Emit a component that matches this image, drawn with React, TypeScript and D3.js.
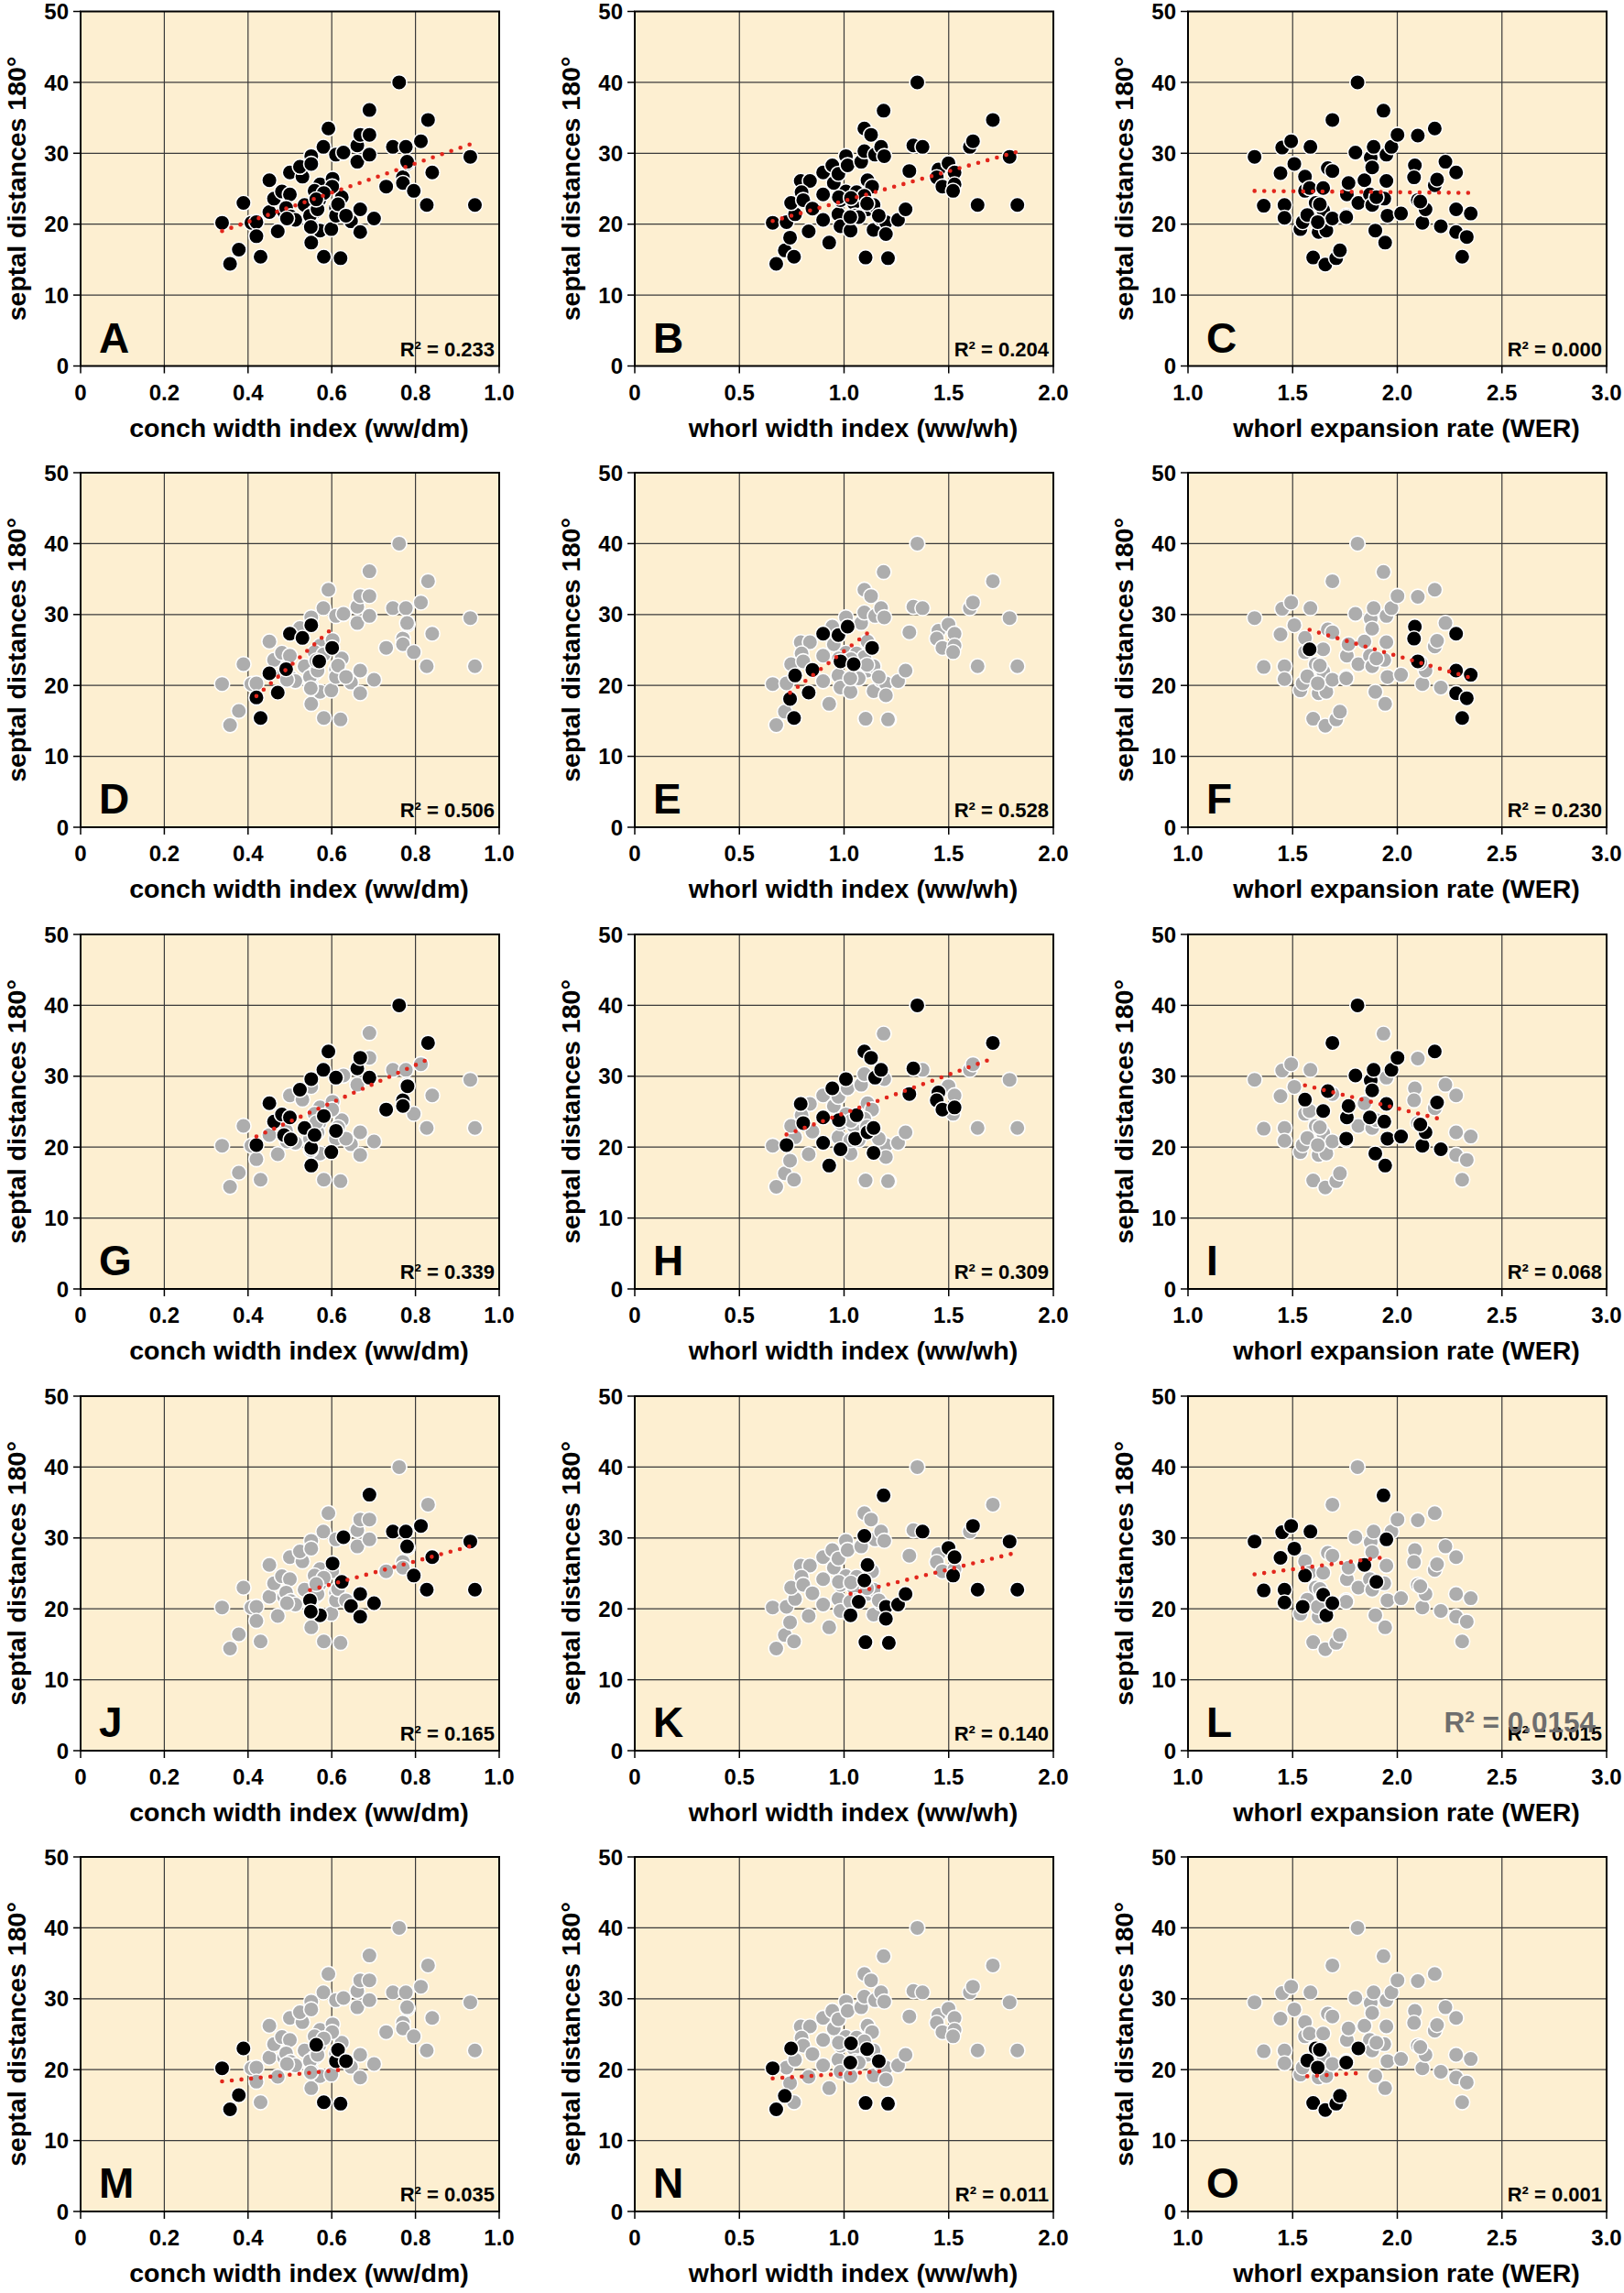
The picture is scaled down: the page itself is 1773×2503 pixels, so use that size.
import React from 'react';
import * as d3 from 'd3';

// [x, septal distance, subgroup] ; subgroup 1..4 = highlighted in row 2..5, 0 = never highlighted
type Pt = [number, number, number];

const conchWidthIndex: Pt[] = [
  [0.338, 20.2, 4], [0.357, 14.4, 4], [0.378, 16.4, 4], [0.389, 23.0, 4], [0.408, 20.2, 0],
  [0.420, 20.3, 2], [0.420, 18.3, 1], [0.430, 15.4, 1], [0.451, 26.2, 2], [0.451, 21.7, 1],
  [0.462, 23.6, 2], [0.471, 19.0, 1], [0.481, 24.6, 2], [0.486, 21.7, 2], [0.500, 24.2, 2],
  [0.491, 22.3, 1], [0.500, 27.3, 1], [0.502, 21.1, 2], [0.513, 20.6, 0], [0.530, 26.7, 1],
  [0.524, 28.1, 2], [0.535, 22.7, 2], [0.551, 29.6, 2], [0.551, 28.5, 1], [0.551, 19.9, 2],
  [0.551, 17.4, 2], [0.559, 21.7, 2], [0.572, 25.6, 0], [0.570, 23.4, 1], [0.559, 24.7, 0],
  [0.572, 19.1, 3], [0.580, 30.9, 2], [0.592, 33.5, 2], [0.581, 15.4, 4], [0.599, 19.3, 2],
  [0.602, 26.4, 3], [0.610, 29.8, 2], [0.610, 22.3, 2], [0.610, 21.2, 4], [0.624, 23.8, 3],
  [0.628, 30.1, 3], [0.621, 15.2, 4], [0.646, 20.4, 3], [0.661, 31.1, 2], [0.661, 28.8, 0],
  [0.668, 32.6, 2], [0.668, 22.1, 3], [0.668, 18.9, 3], [0.690, 36.1, 3], [0.690, 32.6, 0],
  [0.690, 29.8, 2], [0.701, 20.8, 3], [0.730, 25.3, 2], [0.746, 30.9, 3], [0.761, 40.0, 2],
  [0.770, 26.6, 2], [0.770, 25.8, 2], [0.777, 30.9, 3], [0.781, 28.6, 2], [0.796, 24.7, 3],
  [0.813, 31.7, 3], [0.827, 22.7, 3], [0.830, 34.7, 2], [0.840, 27.3, 3], [0.931, 29.5, 3],
  [0.942, 22.7, 3], [0.548, 21.2, 3], [0.493, 20.8, 0], [0.566, 22.1, 0], [0.601, 25.3, 1],
  [0.581, 24.4, 2], [0.780, 28.8, 3], [0.550, 19.6, 3], [0.563, 23.5, 4], [0.615, 22.8, 4],
  [0.634, 21.2, 4],
];

const whorlWidthIndex: Pt[] = [
  [0.659, 20.2, 4], [0.676, 14.4, 4], [0.717, 16.3, 4], [0.742, 18.1, 1], [0.725, 20.3, 2],
  [0.761, 15.4, 1], [0.766, 21.4, 1], [0.747, 23.0, 4], [0.793, 26.1, 2], [0.837, 26.1, 0],
  [0.797, 24.5, 0], [0.805, 23.4, 2], [0.831, 19.0, 1], [0.849, 22.2, 1], [0.900, 20.6, 2],
  [0.900, 27.3, 1], [0.900, 24.2, 2], [0.929, 17.4, 2], [0.944, 28.3, 2], [0.951, 25.8, 0],
  [0.973, 27.1, 1], [0.973, 21.4, 0], [0.983, 23.4, 1], [0.983, 19.7, 2], [1.009, 29.6, 2],
  [1.017, 28.3, 1], [1.009, 24.6, 0], [1.031, 19.1, 3], [1.046, 23.0, 1], [1.053, 21.2, 2],
  [1.082, 28.8, 0], [1.097, 30.3, 3], [1.097, 33.5, 2], [1.102, 15.3, 3], [1.112, 26.2, 3],
  [1.112, 22.1, 2], [1.129, 32.6, 2], [1.134, 25.3, 1], [1.141, 22.7, 2], [1.141, 19.2, 2],
  [1.148, 29.8, 2], [1.177, 30.9, 2], [1.189, 36.0, 3], [1.192, 29.6, 0], [1.175, 20.8, 0],
  [1.200, 20.3, 3], [1.200, 18.6, 3], [1.214, 15.2, 3], [1.258, 20.6, 3], [1.294, 22.1, 3],
  [1.312, 27.5, 2], [1.331, 31.1, 2], [1.350, 40.0, 2], [1.375, 30.9, 3], [1.451, 27.7, 2],
  [1.443, 26.6, 2], [1.470, 25.3, 2], [1.499, 28.6, 3], [1.528, 27.3, 3], [1.528, 25.6, 2],
  [1.521, 24.7, 3], [1.601, 30.9, 0], [1.616, 31.7, 3], [1.638, 22.7, 3], [1.711, 34.7, 2],
  [1.791, 29.5, 3], [1.828, 22.7, 3], [0.975, 23.8, 2], [1.060, 24.5, 2], [1.097, 24.0, 3],
  [1.070, 21.0, 3], [1.033, 23.7, 4], [1.030, 21.0, 4], [1.110, 22.9, 4], [1.166, 21.2, 4],
  [1.103, 15.3, 4], [1.210, 15.2, 4],
];

const whorlExpansionRate: Pt[] = [
  [1.318, 29.5, 3], [1.362, 22.6, 3], [1.442, 27.2, 3], [1.450, 30.8, 3], [1.461, 22.7, 3],
  [1.461, 20.9, 3], [1.493, 31.7, 3], [1.508, 28.5, 3], [1.537, 19.3, 0], [1.548, 20.3, 3],
  [1.559, 26.7, 2], [1.559, 24.7, 3], [1.581, 25.1, 1], [1.585, 30.9, 3], [1.598, 15.3, 4],
  [1.610, 23.0, 4], [1.624, 18.9, 0], [1.646, 25.1, 2], [1.646, 22.0, 3], [1.656, 14.3, 4],
  [1.661, 19.1, 3], [1.668, 27.9, 2], [1.690, 27.5, 0], [1.690, 20.8, 3], [1.708, 15.2, 4],
  [1.726, 16.3, 4], [1.690, 34.7, 2], [1.756, 21.2, 2], [1.759, 24.2, 2], [1.767, 25.8, 2],
  [1.800, 30.1, 2], [1.810, 40.0, 2], [1.814, 23.0, 4], [1.843, 26.2, 3], [1.873, 29.4, 2],
  [1.880, 28.0, 2], [1.869, 24.2, 2], [1.880, 22.7, 0], [1.887, 30.9, 2], [1.895, 19.1, 2],
  [1.934, 36.0, 3], [1.938, 23.6, 2], [1.942, 17.4, 2], [1.948, 26.1, 2], [1.948, 29.8, 3],
  [1.953, 21.2, 2], [1.972, 30.9, 2], [2.001, 32.6, 2], [2.018, 21.5, 2], [2.084, 28.3, 1],
  [2.080, 26.6, 1], [2.098, 23.4, 1], [2.120, 20.2, 2], [2.135, 22.1, 2], [2.098, 32.5, 0],
  [2.179, 33.5, 2], [2.179, 25.5, 0], [2.190, 26.3, 2], [2.208, 19.7, 2], [2.230, 28.8, 0],
  [2.281, 27.3, 1], [2.281, 22.1, 1], [2.281, 18.9, 1], [2.332, 18.2, 1], [2.351, 21.5, 1],
  [2.310, 15.4, 1], [2.110, 23.2, 2], [1.900, 23.8, 3], [1.630, 22.8, 4], [1.570, 21.3, 4],
  [1.620, 20.3, 4], [1.756, 21.0, 4],
];

const columnData: Pt[][] = [conchWidthIndex, whorlWidthIndex, whorlExpansionRate];

const panelLetters = [
  ['A', 'B', 'C'],
  ['D', 'E', 'F'],
  ['G', 'H', 'I'],
  ['J', 'K', 'L'],
  ['M', 'N', 'O'],
];

const r2Values = [
  ['0.233', '0.204', '0.000'],
  ['0.506', '0.528', '0.230'],
  ['0.339', '0.309', '0.068'],
  ['0.165', '0.140', '0.015'],
  ['0.035', '0.011', '0.001'],
];

const xTitles = ['conch width index (ww/dm)', 'whorl width index (ww/wh)', 'whorl expansion rate (WER)'];
const xDomains: [number, number][] = [[0, 1], [0, 2], [1, 3]];
const xTickValues = [[0, 0.2, 0.4, 0.6, 0.8, 1.0], [0, 0.5, 1.0, 1.5, 2.0], [1.0, 1.5, 2.0, 2.5, 3.0]];
const xTickLabels = [['0', '0.2', '0.4', '0.6', '0.8', '1.0'], ['0', '0.5', '1.0', '1.5', '2.0'], ['1.0', '1.5', '2.0', '2.5', '3.0']];
const yTicks = [0, 10, 20, 30, 40, 50];
const yTitle = 'septal distances 180°';
const overlayLabelL = 'R² = 0.0154';

const W = 1773;
const H = 2503;
const colLeft = [88, 693, 1297];
const rowTop = [12.5, 516, 1020, 1524, 2027];
const plotW = 457;
const plotH = 387;
const FONT = '"Liberation Sans", Arial, Helvetica, sans-serif';
const BG = '#fdefd1';
const GRID = '#3a3a3a';
const GREY = '#adadad';
const RED = '#e2261c';

function fitLine(pts: Pt[]) {
  const xs = pts.map((p) => p[0]);
  const ys = pts.map((p) => p[1]);
  const mx = d3.mean(xs) as number;
  const my = d3.mean(ys) as number;
  let sxy = 0;
  let sxx = 0;
  pts.forEach((p) => {
    sxy += (p[0] - mx) * (p[1] - my);
    sxx += (p[0] - mx) * (p[0] - mx);
  });
  const b = sxx === 0 ? 0 : sxy / sxx;
  const a = my - b * mx;
  const x0 = d3.min(xs) as number;
  const x1 = d3.max(xs) as number;
  return [[x0, a + b * x0], [x1, a + b * x1]] as [number, number][];
}

function Panel({ row, col }: { row: number; col: number }) {
  const left = colLeft[col];
  const top = rowTop[row];
  const x = d3.scaleLinear().domain(xDomains[col]).range([0, plotW]);
  const y = d3.scaleLinear().domain([0, 50]).range([plotH, 0]);
  const data = columnData[col];
  const highlighted = row === 0 ? data : data.filter((d) => d[2] === row);
  const others = row === 0 ? [] : data.filter((d) => d[2] !== row);
  const line = d3
    .line<[number, number]>()
    .x((d) => x(d[0]))
    .y((d) => y(d[1]));
  const fit = fitLine(highlighted);

  return (
    <g transform={`translate(${left},${top})`} fontFamily={FONT} fontWeight="bold">
      <rect x={0} y={0} width={plotW} height={plotH} fill={BG} />
      {xTickValues[col].map((v, i) => (
        <line key={'gx' + i} x1={x(v)} x2={x(v)} y1={0} y2={plotH} stroke={GRID} strokeWidth={1.2} />
      ))}
      {yTicks.map((v, i) => (
        <line key={'gy' + i} x1={0} x2={plotW} y1={y(v)} y2={y(v)} stroke={GRID} strokeWidth={1.2} />
      ))}
      {xTickValues[col].map((v, i) => (
        <line key={'tx' + i} x1={x(v)} x2={x(v)} y1={plotH} y2={plotH + 8} stroke="#000" strokeWidth={1.5} />
      ))}
      {yTicks.map((v, i) => (
        <line key={'ty' + i} x1={-8} x2={0} y1={y(v)} y2={y(v)} stroke="#000" strokeWidth={1.5} />
      ))}
      {others.map((d, i) => (
        <circle key={'o' + i} cx={x(d[0])} cy={y(d[1])} r={8.3} fill={GREY} stroke="#fff" strokeWidth={1.6} />
      ))}
      {highlighted.map((d, i) => (
        <circle key={'h' + i} cx={x(d[0])} cy={y(d[1])} r={8.3} fill="#000" stroke="#fff" strokeWidth={1.6} />
      ))}
      <path
        d={line(fit) || ''}
        fill="none"
        stroke={RED}
        strokeWidth={4.6}
        strokeLinecap="round"
        strokeDasharray="0 10.6"
      />
      <rect x={0} y={0} width={plotW} height={plotH} fill="none" stroke="#000" strokeWidth={2} />
      {yTicks.map((v, i) => (
        <text key={'ly' + i} x={-13} y={y(v)} dy="0.36em" textAnchor="end" fontSize={24}>
          {v}
        </text>
      ))}
      {xTickValues[col].map((v, i) => (
        <text key={'lx' + i} x={x(v)} y={plotH + 37} textAnchor="middle" fontSize={24}>
          {xTickLabels[col][i]}
        </text>
      ))}
      <text x={plotW / 2 + 10} y={plotH + 77} textAnchor="middle" fontSize={28.5}>
        {xTitles[col]}
      </text>
      <text
        transform={`translate(${-60},${plotH / 2}) rotate(-90)`}
        textAnchor="middle"
        fontSize={28.5}
      >
        {yTitle}
      </text>
      <text x={20} y={plotH - 15} fontSize={46}>
        {panelLetters[row][col]}
      </text>
      <text x={plotW - 5} y={plotH - 11} textAnchor="end" fontSize={22}>
        {`R² = ${r2Values[row][col]}`}
      </text>
      {row === 3 && col === 2 ? (
        <text x={plotW - 12} y={plotH - 20} textAnchor="end" fontSize={31.5} fill="#6e6e6e">
          {overlayLabelL}
        </text>
      ) : null}
    </g>
  );
}

export default function App() {
  const panels: { row: number; col: number }[] = [];
  for (let r = 0; r < 5; r++) for (let c = 0; c < 3; c++) panels.push({ row: r, col: c });
  return (
    <svg
      width={W}
      height={H}
      viewBox={`0 0 ${W} ${H}`}
      style={{ position: 'absolute', left: 0, top: 0, background: '#fff' }}
    >
      <rect x={0} y={0} width={W} height={H} fill="#fff" />
      {panels.map((p) => (
        <Panel key={`${p.row}-${p.col}`} row={p.row} col={p.col} />
      ))}
    </svg>
  );
}
